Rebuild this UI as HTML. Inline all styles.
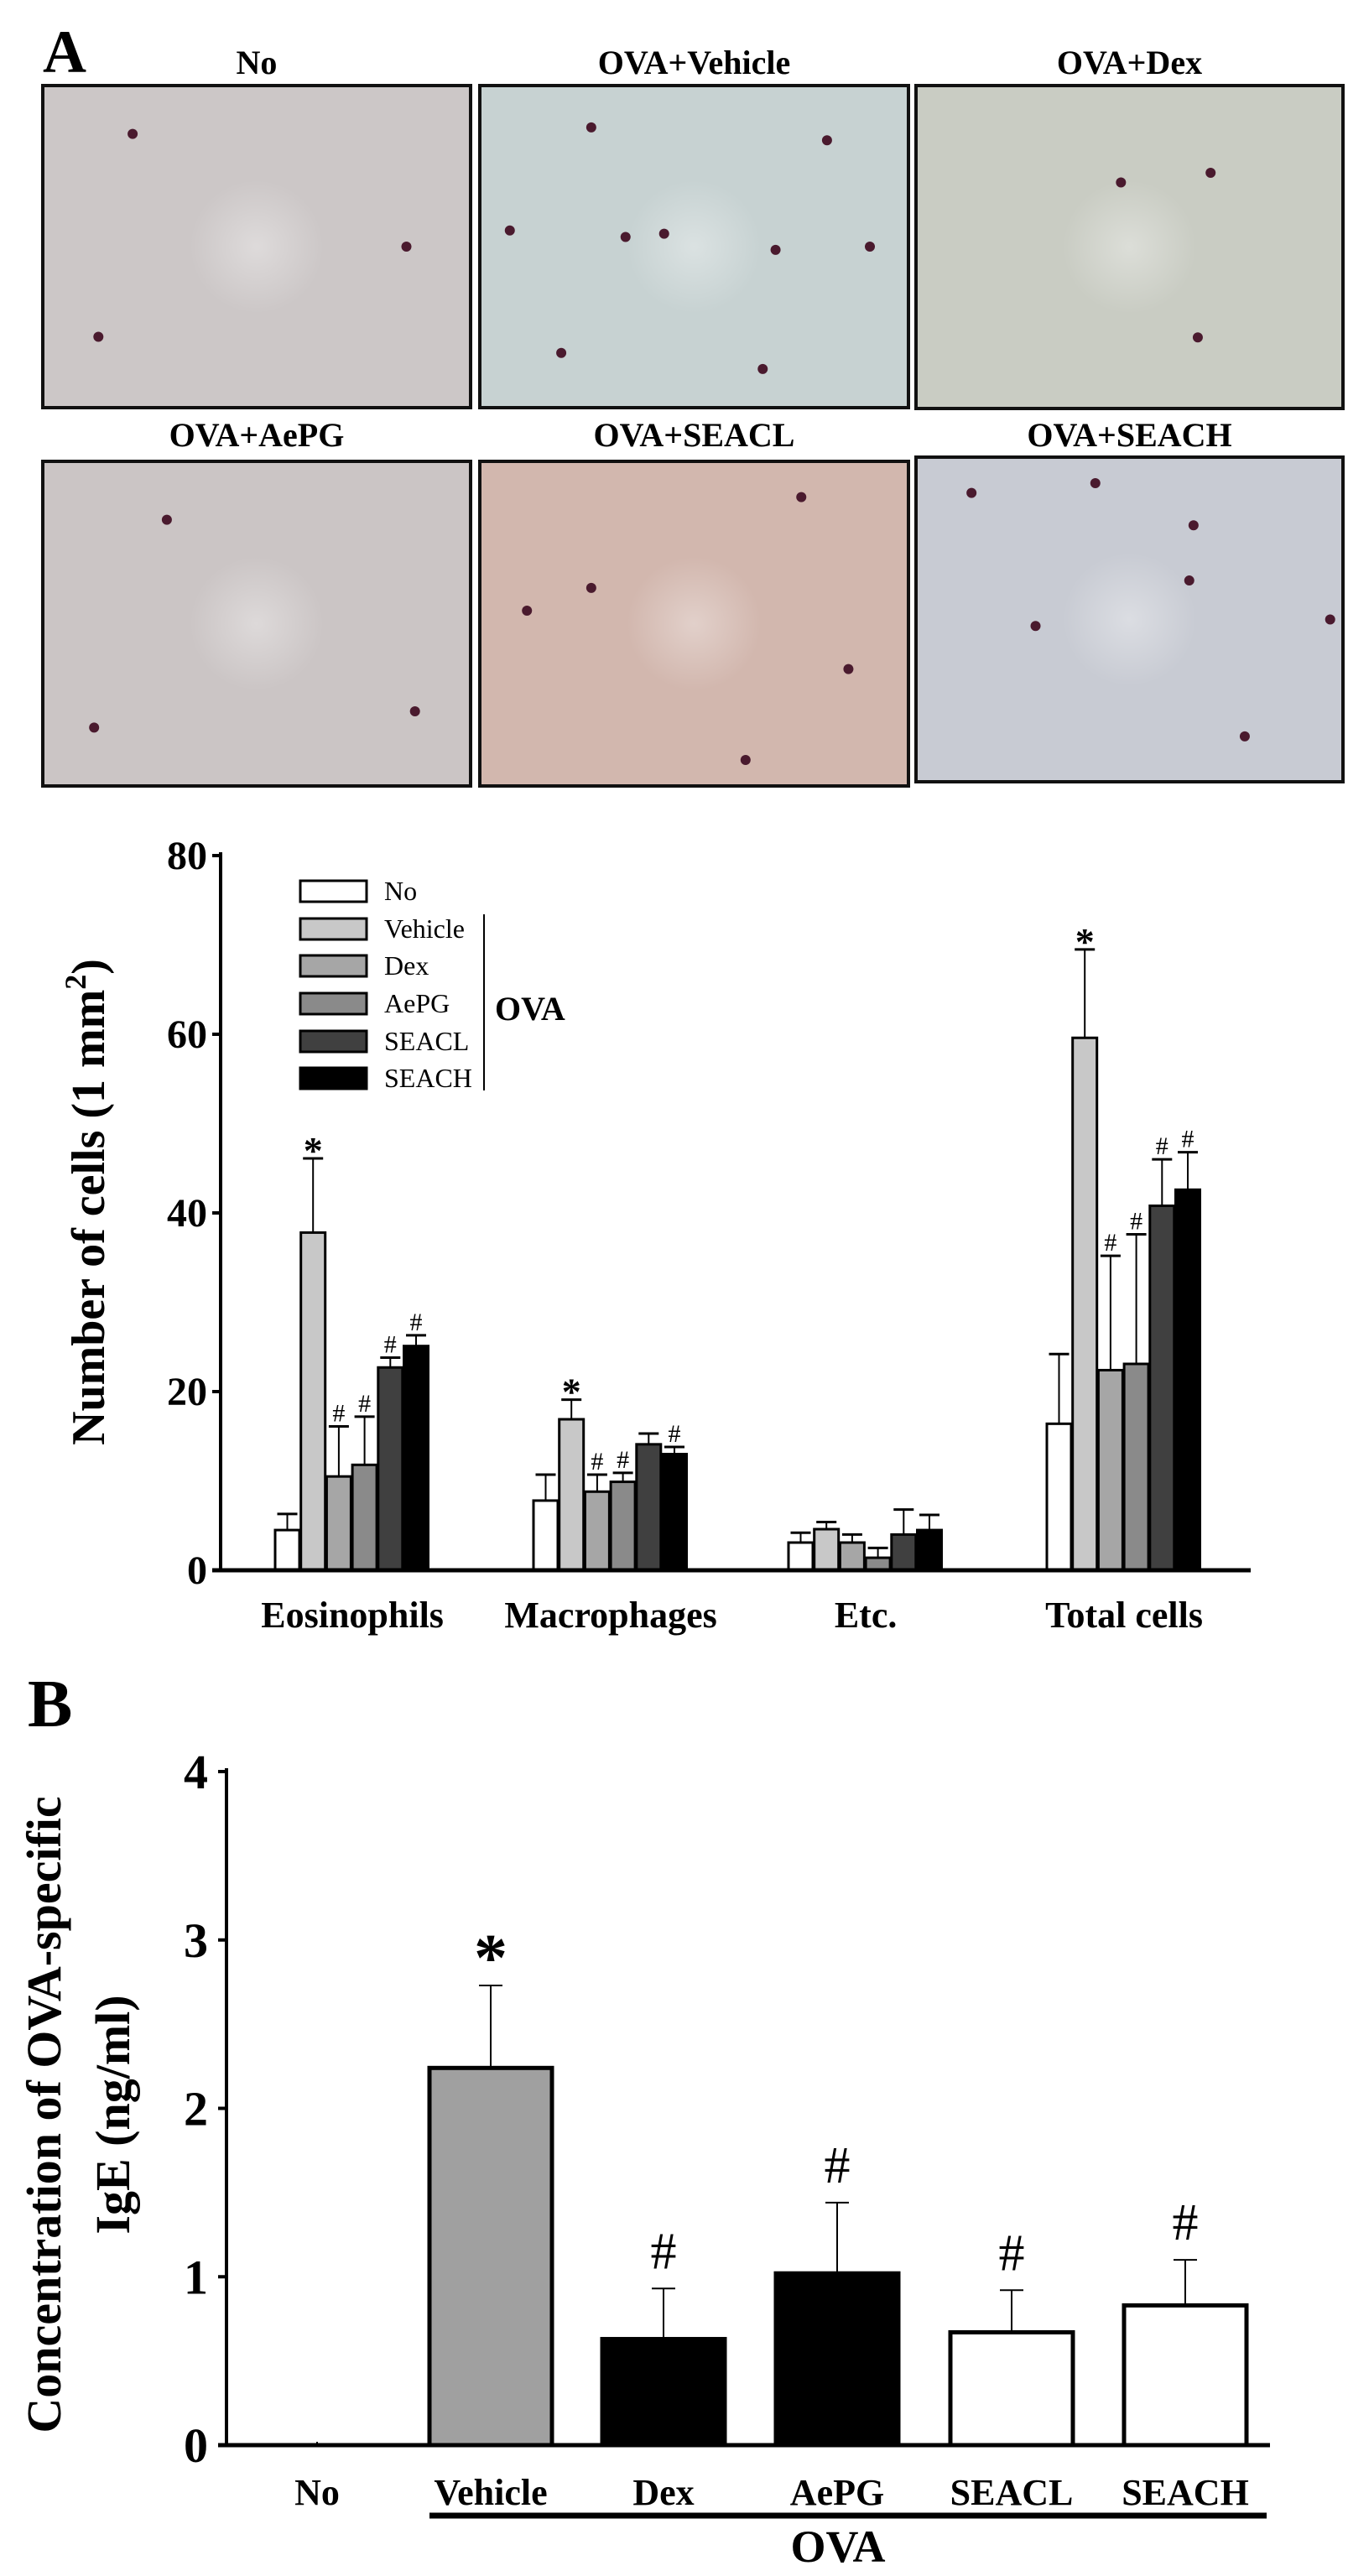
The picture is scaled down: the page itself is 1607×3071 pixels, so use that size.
<!DOCTYPE html>
<html><head><meta charset="utf-8">
<style>
html,body{margin:0;padding:0;background:#fff;}
svg{display:block;}
text{font-family:"Liberation Serif",serif;}
</style></head>
<body>
<svg id="fig" width="1607" height="3071" viewBox="0 0 1607 3071" xmlns="http://www.w3.org/2000/svg">
<defs>
<radialGradient id="glow" cx="0.5" cy="0.5" r="0.5">
<stop offset="0" stop-color="#ffffff" stop-opacity="0.35"/>
<stop offset="1" stop-color="#ffffff" stop-opacity="0"/>
</radialGradient>
</defs>
<text x="51" y="86" font-size="72" font-weight="bold">A</text>
<text x="1000" y="2058" font-size="80" font-weight="bold" transform="translate(-967,0)">B</text>
<g id="photos"></g>
<g id="chartA"></g>
<g id="chartB"></g>
</svg>
<script>
// ---------- Chart A data ----------
const catsA = ["Eosinophils","Macrophages","Etc.","Total cells"];
const seriesA = ["No","Vehicle","Dex","AePG","SEACL","SEACH"];
const valNo      = [4.5, 7.8, 3.1, 16.4];
const valVehicle = [37.8, 16.9, 4.6, 59.6];
const valDex     = [10.5, 8.8, 3.1, 22.4];
const valAePG    = [11.8, 9.9, 1.4, 23.1];
const valSEACL   = [22.7, 14.1, 4.0, 40.8];
const valSEACH   = [25.1, 13.0, 4.5, 42.6];
const errNo      = [6.3, 10.7, 4.2, 24.2];
const errVehicle = [46.1, 19.1, 5.4, 69.5];
const errDex     = [16.1, 10.7, 4.0, 35.2];
const errAePG    = [17.2, 10.9, 2.5, 37.6];
const errSEACL   = [23.8, 15.3, 6.8, 46.0];
const errSEACH   = [26.3, 13.8, 6.2, 46.8];
const markNo      = ["","","",""];
const markVehicle = ["*","*","","*"];
const markDex     = ["#","#","","#"];
const markAePG    = ["#","#","","#"];
const markSEACL   = ["#","","","#"];
const markSEACH   = ["#","#","","#"];
const ticksA = [0,20,40,60,80];

// ---------- Chart B data ----------
const catsB = ["No","Vehicle","Dex","AePG","SEACL","SEACH"];
const valB  = [0, 2.24, 0.63, 1.02, 0.67, 0.83];
const errB  = [0, 2.73, 0.93, 1.44, 0.92, 1.10];
const markB = ["","*","#","#","#","#"];
const ticksB = [0,1,2,3,4];

const NS="http://www.w3.org/2000/svg";
function mk(tag, attrs, parent, txt){
  const e=document.createElementNS(NS,tag);
  for(const k in attrs) e.setAttribute(k,attrs[k]);
  if(txt!==undefined) e.textContent=txt;
  parent.appendChild(e); return e;
}

// ---------- photos ----------
const photos=document.getElementById('photos');
const photoTitles=["No","OVA+Vehicle","OVA+Dex","OVA+AePG","OVA+SEACL","OVA+SEACH"];
const photoBoxes=[[51,102,510,384],[572,102,511,384],[1092,102,509,385],[51,550,510,387],[572,550,511,387],[1092,545,509,387]];
const photoFill=["#ccc7c7","#c7d2d2","#c9ccc3","#cbc5c5","#d2b7ae","#c8cbd3"];
const cells=[
 [[0.21,0.15],[0.13,0.78],[0.85,0.5]],
 [[0.26,0.13],[0.81,0.17],[0.34,0.47],[0.43,0.46],[0.69,0.51],[0.91,0.5],[0.19,0.83],[0.66,0.88],[0.07,0.45]],
 [[0.48,0.3],[0.69,0.27],[0.66,0.78]],
 [[0.29,0.18],[0.12,0.82],[0.87,0.77]],
 [[0.75,0.11],[0.11,0.46],[0.26,0.39],[0.86,0.64],[0.62,0.92]],
 [[0.13,0.11],[0.42,0.08],[0.65,0.21],[0.64,0.38],[0.28,0.52],[0.97,0.5],[0.77,0.86]]
];
photoBoxes.forEach((b,i)=>{
  const g=mk('g',{},photos);
  
  
  mk('rect',{x:b[0],y:b[1],width:b[2],height:b[3],fill:photoFill[i],stroke:'#111','stroke-width':4},g);
  mk('ellipse',{cx:b[0]+b[2]*0.5,cy:b[1]+b[3]*0.5,rx:80,ry:80,fill:'url(#glow)'},g);
  cells[i].forEach(c=>{
    mk('circle',{cx:b[0]+c[0]*b[2],cy:b[1]+c[1]*b[3],r:6,fill:'#4a1a2e'},g);
  });
  const t=mk('text',{x:b[0]+b[2]/2,y:(i<3?88:532),'font-size':40,'font-weight':'bold','text-anchor':'middle'},g,photoTitles[i]);
  
  
});

// ---------- Chart A ----------
(function(){
  const g=document.getElementById('chartA');
  const x0=263, xEnd=1491, y0=1872, yTop=1020, vmax=80;
  const y=v=>y0-(v/vmax)*(y0-yTop);
  const groupStart=[328,636,940,1248];
  const step=30.7, bw=29;
  const vals=[valNo,valVehicle,valDex,valAePG,valSEACL,valSEACH];
  const errs=[errNo,errVehicle,errDex,errAePG,errSEACL,errSEACH];
  const marks=[markNo,markVehicle,markDex,markAePG,markSEACL,markSEACH];
  const fills=["#ffffff","#c8c8c8","#a6a6a6","#8a8a8a","#404040","#000000"];
  const ya=mk('line',{x1:x0,y1:yTop-4,x2:x0,y2:y0,stroke:'#000','stroke-width':4},g);
   
  ticksA.forEach(t=>{
    mk('line',{x1:x0-10,y1:y(t),x2:x0,y2:y(t),stroke:'#000','stroke-width':4},g);
    const tl=mk('text',{x:x0-16,y:y(t)+16,'font-size':48,'font-weight':'bold','text-anchor':'end'},g,String(t));
     
  });
  const yt=mk('text',{x:0,y:0,'font-size':56,'font-weight':'bold','text-anchor':'middle',transform:'translate(124,1433) rotate(-90)'},g);
   
  yt.innerHTML='Number of cells (1 mm<tspan dy="-22" font-size="36">2</tspan><tspan dy="22">)</tspan>';
  catsA.forEach((c,ci)=>{
    seriesA.forEach((s,si)=>{
      const bx=groupStart[ci]+si*step;
      const v=vals[si][ci], e=errs[si][ci];
      const cx=bx+bw/2;
      const el=mk('line',{x1:cx,y1:y(v),x2:cx,y2:y(e),stroke:'#000','stroke-width':2},g);
       
      mk('line',{x1:cx-12,y1:y(e),x2:cx+12,y2:y(e),stroke:'#000','stroke-width':3},g);
      const r=mk('rect',{x:bx,y:y(v),width:bw,height:y0-y(v),fill:fills[si],stroke:'#000','stroke-width':3},g);
      
      
      if(marks[si][ci]){
        const star=marks[si][ci]==='*';
        const m=mk('text',{x:cx,y:y(e)-(star?-6:6),'font-size':star?46:30,'font-weight':star?'bold':'normal','text-anchor':'middle'},g,marks[si][ci]);
         
      }
    });
    const lbl=mk('text',{x:groupStart[ci]+3*step,y:1940,'font-size':44,'font-weight':'bold','text-anchor':'middle'},g,c);
     
  });
  const xa=mk('line',{x1:x0-10,y1:y0,x2:xEnd,y2:y0,stroke:'#000','stroke-width':5},g);
   
  const lg=mk('g',{},g);
   
  const ly=[1062,1107,1151,1196,1241,1285];
  seriesA.forEach((s,si)=>{
    const le=mk('g',{},lg);
     
    mk('rect',{x:358,y:ly[si]-12,width:79,height:25,fill:fills[si],stroke:'#000','stroke-width':3},le);
    mk('text',{x:458,y:ly[si]+11,'font-size':32},le,s);
  });
  mk('line',{x1:577,y1:1090,x2:577,y2:1300,stroke:'#000','stroke-width':2},lg);
  mk('text',{x:590,y:1216,'font-size':40,'font-weight':'bold'},lg,'OVA');
})();

// ---------- Chart B ----------
(function(){
  const g=document.getElementById('chartB');
  const x0=270, xEnd=1514, y0=2915, yTop=2112, vmax=4;
  const y=v=>y0-(v/vmax)*(y0-yTop);
  const centers=[378,585,791,998,1206,1413];
  const bw=146;
  const fills=["#ffffff","#a0a0a0","#000000","#000000","#ffffff","#ffffff"];
  const ya=mk('line',{x1:x0,y1:yTop-4,x2:x0,y2:y0,stroke:'#000','stroke-width':4},g);
   
  ticksB.forEach(t=>{
    mk('line',{x1:x0-10,y1:y(t),x2:x0,y2:y(t),stroke:'#000','stroke-width':4},g);
    const tl=mk('text',{x:x0-22,y:y(t)+20,'font-size':58,'font-weight':'bold','text-anchor':'end'},g,String(t));
     
  });
  const t1=mk('text',{x:0,y:0,'font-size':58,'font-weight':'bold','text-anchor':'middle',transform:'translate(72,2521) rotate(-90)'},g,'Concentration of OVA-specific');
   
  const t2=mk('text',{x:0,y:0,'font-size':58,'font-weight':'bold','text-anchor':'middle',transform:'translate(154,2521) rotate(-90)'},g,'IgE (ng/ml)');
   
  catsB.forEach((c,i)=>{
    const cx=centers[i], v=valB[i], e=errB[i];
    if(v>0){
      const el=mk('line',{x1:cx,y1:y(v),x2:cx,y2:y(e),stroke:'#000','stroke-width':2},g);
       
      mk('line',{x1:cx-14,y1:y(e),x2:cx+14,y2:y(e),stroke:'#000','stroke-width':2},g);
      const r=mk('rect',{x:cx-bw/2,y:y(v),width:bw,height:y0-y(v),fill:fills[i],stroke:'#000','stroke-width':5},g);
      
      
    } else {
      mk('line',{x1:cx,y1:y0-4,x2:cx,y2:y0,stroke:'#000','stroke-width':2},g);
    }
    if(markB[i]){
      const star=markB[i]==='*';
      const m=mk('text',{x:cx,y:y(e)-(star?6:24),'font-size':star?80:62,'font-weight':star?'bold':'normal','text-anchor':'middle'},g,markB[i]);
       
    }
    const lbl=mk('text',{x:cx,y:2986,'font-size':44,'font-weight':'bold','text-anchor':'middle'},g,c);
     
  });
  const xa=mk('line',{x1:x0-10,y1:y0,x2:xEnd,y2:y0,stroke:'#000','stroke-width':5},g);
   
  const ol=mk('line',{x1:512,y1:2999,x2:1510,y2:2999,stroke:'#000','stroke-width':7},g);
   
  const ot=mk('text',{x:999,y:3054,'font-size':54,'font-weight':'bold','text-anchor':'middle'},g,'OVA');
   
})();
</script>
</body></html>
